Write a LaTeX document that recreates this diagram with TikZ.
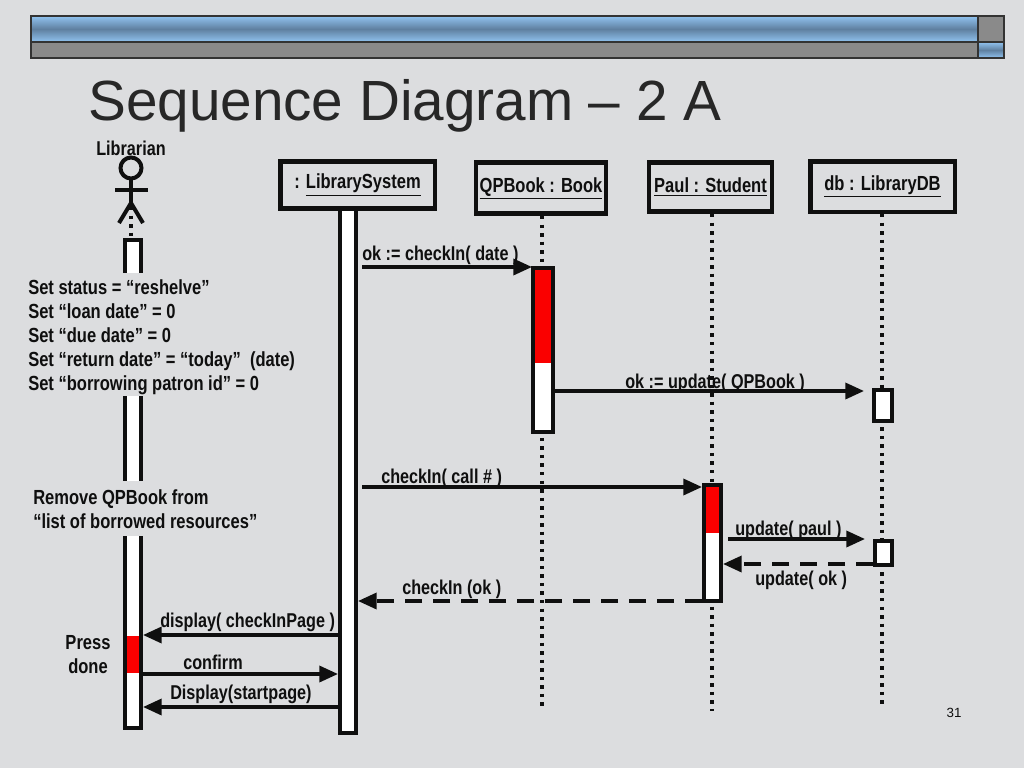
\documentclass[tikz,border=0pt]{standalone}
\usepackage{fontspec}
\setmainfont{Liberation Sans}
\newfontfamily\nb{Liberation Sans Bold}[FakeStretch=0.81]
\usetikzlibrary{arrows.meta}
\definecolor{bg}{RGB}{220,221,223}
\definecolor{ink}{RGB}{15,15,15}
\definecolor{barblueL}{RGB}{145,195,240}
\definecolor{barblueD}{RGB}{95,128,160}
\definecolor{bargray}{RGB}{138,138,138}
\definecolor{actred}{RGB}{250,0,0}
\begin{document}
\begin{tikzpicture}[x=0.75pt,y=-0.75pt,
  lbl/.style={font=\nb\fontsize{15}{18}\selectfont, text=ink, inner sep=0pt},
  sidetxt/.style={font=\nb\fontsize{15.3}{18}\selectfont, text=ink, inner sep=0pt},
  objbox/.style={draw=ink, line width=3.4pt, fill=bg, font=\nb\fontsize{15.3}{18}\selectfont, text=ink, inner sep=0pt},
  actbar/.style={draw=ink, line width=3pt, fill=white},
  lifeline/.style={ink, line width=3pt, dash pattern=on 2.6pt off 3.8pt},
  msg/.style={ink, line width=2.6pt, -{Triangle[length=14pt,width=12pt]}},
  retmsg/.style={msg, dash pattern=on 12.75pt off 8.25pt}]
\fill[bg] (0,0) rectangle (1024,768);
\useasboundingbox (0,0) rectangle (1024,768);
% top bar
\shade[top color=barblueL, bottom color=barblueL, middle color=barblueD] (31,16) rectangle (978,42);
\fill[bargray] (978,16) rectangle (1004,42);
\fill[bargray] (31,42) rectangle (978,58);
\shade[top color=barblueL, bottom color=barblueL, middle color=barblueD] (978,42) rectangle (1004,58);
\draw[ink!85, line width=1.3pt] (31,16) rectangle (1004,58);
\draw[ink!85, line width=1.3pt] (31,42) -- (1004,42);
\draw[ink!85, line width=1.3pt] (978,16) -- (978,58);
% title
\node[anchor=base west, font=\fontsize{42.5}{50}\selectfont, text=ink!90, inner sep=0pt] (title) at (88,120) {Sequence Diagram – 2 A};
% librarian actor
\node[lbl, anchor=base] (librarian) at (131,155) {Librarian};
\draw[ink, line width=3pt] (131,168) circle[radius=10.5];
\draw[ink, line width=3pt] (115,190) -- (148,190);
\draw[ink, line width=3pt] (131,179) -- (131,205);
\draw[ink, line width=3pt] (131,203) -- (119,223);
\draw[ink, line width=3pt] (131,203) -- (143,223);
\draw[lifeline] (131,207) -- (131,238);
% lifelines
\draw[lifeline] (542,216) -- (542,710);
\draw[lifeline] (712,214) -- (712,711);
\draw[lifeline] (882,214) -- (882,704);
% activation bars
\draw[actbar] (125,240) rectangle (141,728);
\fill[actred] (127,636) rectangle (139,673);
\draw[actbar] (340,209) rectangle (356,733);
\draw[actbar] (533,268) rectangle (553,432);
\fill[actred] (535,270) rectangle (551,363);
\draw[actbar] (704,485) rectangle (721,601);
\fill[actred] (706,487) rectangle (719,533);
\draw[actbar] (874,390) rectangle (892,421);
\draw[actbar] (875,541) rectangle (892,565);
% object boxes
\node[objbox, minimum width=115.9pt, minimum height=35.6pt] (ls) at (357.5,185) {: \underline{LibrarySystem}};
\node[objbox, minimum width=97.5pt, minimum height=38pt] (qp) at (541,188) {\underline{QPBook : Book}};
\node[objbox, minimum width=92pt, minimum height=37pt] (paul) at (710.5,187) {\underline{Paul : Student}};
\node[objbox, minimum width=108.4pt, minimum height=37.9pt] (db) at (882.5,186.5) {\underline{db : LibraryDB}};
% covers over librarian bar where text sits
\fill[bg] (120,273) rectangle (146,396);
\fill[bg] (120,481) rectangle (146,536);
% left texts
\node[sidetxt, anchor=base west] (t1) at (28,294) {Set status = “reshelve”};
\node[sidetxt, anchor=base west] (t2) at (28,318) {Set “loan date” = 0};
\node[sidetxt, anchor=base west] (t3) at (28,342) {Set “due date” = 0};
\node[sidetxt, anchor=base west] (t4) at (28,366) {Set “return date” = “today”\ \ (date)};
\node[sidetxt, anchor=base west] (t5) at (28,390) {Set “borrowing patron id” = 0};
\node[sidetxt, anchor=base west] (r1) at (33,504) {Remove QPBook from};
\node[sidetxt, anchor=base west] (r2) at (33,528) {“list of borrowed resources”};
\node[sidetxt, anchor=base] (press) at (88,649) {Press};
\node[sidetxt, anchor=base] (done) at (88,673) {done};
% message end points
\coordinate (m1s) at (362,267); \coordinate (m1e) at (532,267);
\coordinate (m2s) at (553,391); \coordinate (m2e) at (864,391);
\coordinate (m3s) at (362,487); \coordinate (m3e) at (702,487);
\coordinate (m4s) at (728,539); \coordinate (m4e) at (865,539);
\coordinate (m5s) at (873,564); \coordinate (m5e) at (723,564);
\coordinate (m6s) at (702,601); \coordinate (m6e) at (358,601);
\coordinate (m7s) at (338,635); \coordinate (m7e) at (143,635);
\coordinate (m8s) at (143,674); \coordinate (m8e) at (338,674);
\coordinate (m9s) at (338,707); \coordinate (m9e) at (143,707);
\draw[msg] (m1s) -- (m1e);
\draw[msg] (m2s) -- (m2e);
\draw[msg] (m3s) -- (m3e);
\draw[msg] (m4s) -- (m4e);
\draw[retmsg] (m5s) -- (m5e);
\draw[retmsg] (m6s) -- (m6e);
\draw[msg] (m7s) -- (m7e);
\draw[msg] (m8s) -- (m8e);
\draw[msg] (m9s) -- (m9e);
% message labels
\node[lbl, anchor=base west] (l1) at (362,260) {ok := checkIn( date )};
\node[lbl, anchor=base west] (l2) at (625,388) {ok := update( QPBook )};
\node[lbl, anchor=base west] (l3) at (381,483) {checkIn( call \# )};
\node[lbl, anchor=base west] (l4) at (735,535) {update( paul )};
\node[lbl, anchor=base west] (l5) at (755,585) {update( ok )};
\node[lbl, anchor=base west] (l6) at (402,594) {checkIn (ok )};
\node[lbl, anchor=base west] (l7) at (160,627) {display( checkInPage )};
\node[lbl, anchor=base west] (l8) at (183,669) {confirm};
\node[lbl, anchor=base west] (l9) at (170,699) {Display(startpage)};
% page number
\node[font=\fontsize{10}{12}\selectfont, text=ink, inner sep=0pt] (pnum) at (954,713) {31};
\end{tikzpicture}
\end{document}
